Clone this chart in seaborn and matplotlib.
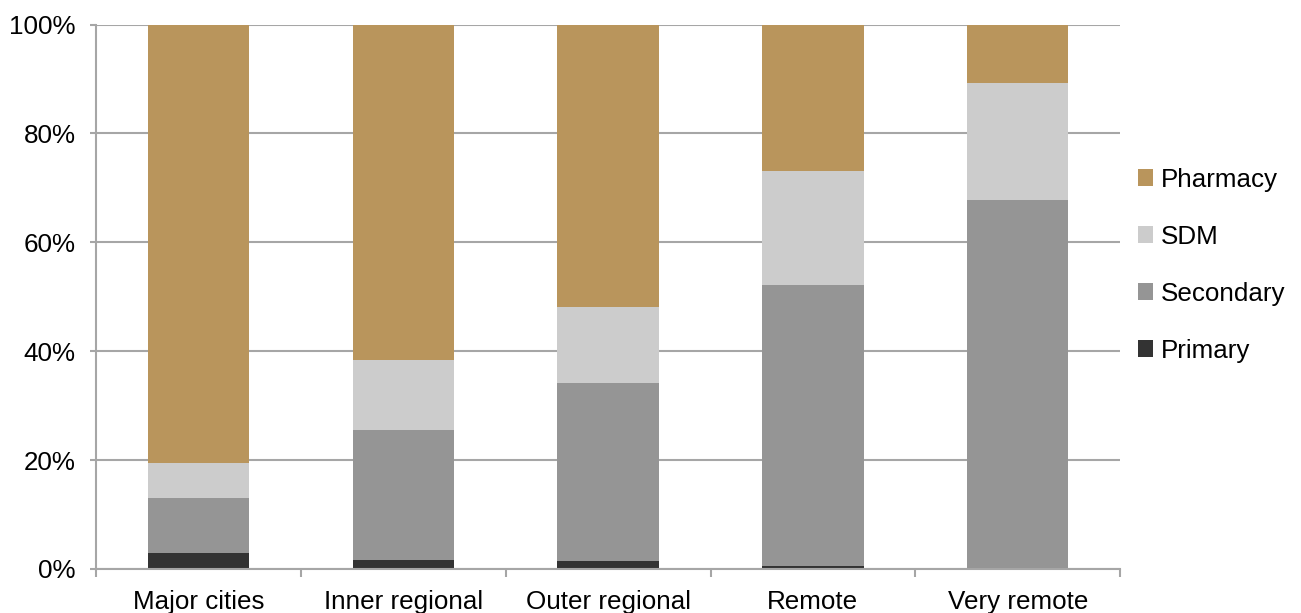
import matplotlib
matplotlib.use("Agg")
import matplotlib.pyplot as plt
import seaborn as sns
import numpy as np
from matplotlib.ticker import FixedLocator, PercentFormatter
from matplotlib.patches import Patch

# Share of services by remoteness area (%)
categories = ["Major cities", "Inner regional", "Outer regional", "Remote", "Very remote"]
primary = [2.9, 1.6, 1.4, 0.5, 0.0]
secondary = [10.2, 24.0, 32.7, 51.6, 67.8]
sdm = [6.3, 12.7, 14.0, 21.0, 21.5]
pharmacy = [80.6, 61.7, 51.9, 26.9, 10.7]

series_names = ["Primary", "Secondary", "SDM", "Pharmacy"]
series_values = [primary, secondary, sdm, pharmacy]
colors = ["#333333", "#959595", "#CCCCCC", "#B9955C"]

sns.set_theme(style="white")
plt.rcParams["font.family"] = ["Liberation Sans", "DejaVu Sans"]
plt.rcParams["text.color"] = "black"

fig = plt.figure(figsize=(13.01, 6.13), dpi=100)
ax = fig.add_axes([0.0738, 0.0718, 0.7872, 0.8882])

grid_color = "#A6A6A6"
ax.set_axisbelow(True)
ax.yaxis.grid(True, color=grid_color, linewidth=1.5)

bottom = np.zeros(len(categories))
for name, vals, col in zip(series_names, series_values, colors):
    sns.barplot(x=categories, y=vals, bottom=bottom, color=col, width=0.495,
                ax=ax, label=name, saturation=1, linewidth=0)
    bottom = bottom + np.array(vals)

ax.set_xlim(-0.5, len(categories) - 0.5)
ax.set_ylim(0, 100)
ax.yaxis.set_major_locator(FixedLocator([0, 20, 40, 60, 80, 100]))
ax.yaxis.set_major_formatter(PercentFormatter(decimals=0))

for s in ["top", "right"]:
    ax.spines[s].set_visible(False)
for s in ["left", "bottom"]:
    ax.spines[s].set_color(grid_color)
    ax.spines[s].set_linewidth(1.5)

ax.tick_params(axis="y", which="major", length=4.5, width=1.5, color=grid_color,
               labelsize=18.7, pad=10, left=True, labelcolor="black")
ax.tick_params(axis="x", which="major", length=0, labelsize=18.7, pad=15,
               labelcolor="black")
ax.xaxis.set_minor_locator(FixedLocator(np.arange(-0.5, len(categories), 1.0)))
ax.tick_params(axis="x", which="minor", length=6, width=1.5, color=grid_color,
               bottom=True)
ax.set_xlabel("")
ax.set_ylabel("")

handles = [Patch(facecolor=c, edgecolor="none") for c in colors][::-1]
labels = series_names[::-1]
leg = ax.legend(handles, labels, loc="center left", bbox_to_anchor=(1.007, 0.558),
                frameon=False, fontsize=18.7, handlelength=0.6, handleheight=0.6,
                handletextpad=0.3, labelspacing=1.27, borderaxespad=0,
                labelcolor="black")

fig.savefig("out.png", dpi=100)
